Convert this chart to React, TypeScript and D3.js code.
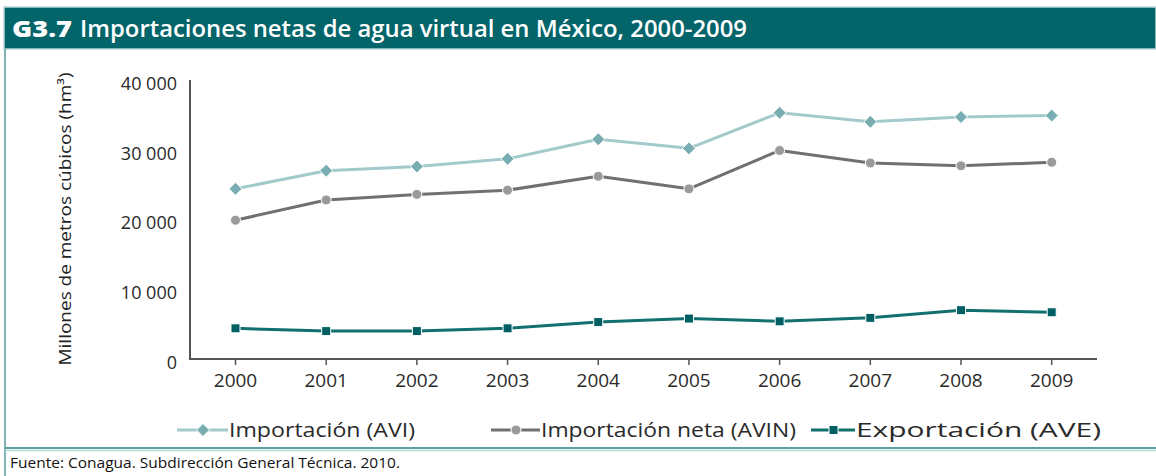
import React from "react";
import * as d3 from "d3";

const years = [2000, 2001, 2002, 2003, 2004, 2005, 2006, 2007, 2008, 2009];
const importacionAVI = [24400, 27000, 27600, 28700, 31500, 30200, 35300, 34000, 34700, 34900];
const importacionNetaAVIN = [19900, 22800, 23600, 24200, 26200, 24400, 29900, 28100, 27700, 28200];
const exportacionAVE = [4400, 4000, 4000, 4400, 5300, 5800, 5400, 5900, 7000, 6700];
const yTicks = [0, 10000, 20000, 30000, 40000];
const legendLabels = ["Importación (AVI)", "Importación neta (AVIN)", "Exportación (AVE)"];
const titleCode = "G3.7";
const titleText = "Importaciones netas de agua virtual en México, 2000-2009";
const yAxisLabel = "Millones de metros cúbicos (hm³)";
const sourceText = "Fuente: Conagua. Subdirección General Técnica. 2010.";

const W = 1156;
const H = 476;
const FONT = "'Open Sans', 'Noto Sans', sans-serif";

const x = d3.scaleLinear().domain([2000, 2009]).range([235.5, 1051.7]);
const y = d3.scaleLinear().domain([0, 40000]).range([359, 80]);
const fmt = d3.formatLocale({ decimal: ".", thousands: " ", grouping: [3], currency: ["", ""] }).format(",d");

type Shape = "diamond" | "circle" | "square";

const series: { name: string; values: number[]; line: string; marker: string; shape: Shape }[] = [
  { name: legendLabels[0], values: importacionAVI, line: "#a3cacb", marker: "#78adb1", shape: "diamond" },
  { name: legendLabels[1], values: importacionNetaAVIN, line: "#707070", marker: "#9a9a9a", shape: "circle" },
  { name: legendLabels[2], values: exportacionAVE, line: "#12716f", marker: "#005f63", shape: "square" },
];

function Marker({ shape, cx, cy, fill }: { shape: Shape; cx: number; cy: number; fill: string }) {
  if (shape === "diamond") {
    const r = 6.5;
    return (
      <path
        d={`M${cx},${cy - r}L${cx + r},${cy}L${cx},${cy + r}L${cx - r},${cy}Z`}
        fill={fill}
        stroke="#fff"
        strokeWidth={1}
      />
    );
  }
  if (shape === "circle") {
    return <circle cx={cx} cy={cy} r={5} fill={fill} stroke="#fff" strokeWidth={1} />;
  }
  const s = 9;
  return <rect x={cx - s / 2} y={cy - s / 2} width={s} height={s} fill={fill} stroke="#fff" strokeWidth={1} />;
}

export default function App() {
  const line = d3
    .line<number>()
    .x((_, i) => x(years[i]))
    .y((d) => y(d));

  const legendItems = [
    { sx: 177, tx: 229, tl: 186 },
    { sx: 491, tx: 541, tl: 255 },
    { sx: 811, tx: 856, tl: 245 },
  ];

  return (
    <svg
      width={W}
      height={H}
      style={{ position: "absolute", left: 0, top: 0, background: "#fff" }}
      fontFamily={FONT}
    >
      {/* header band */}
      <rect x={4} y={7} width={W - 4} height={42} fill="#03646a" stroke="#b9d6d7" strokeWidth={1.5} />
      <text x={12} y={37} fill="#fff" fontSize={23} fontWeight={800} textLength={60} lengthAdjust="spacingAndGlyphs">
        {titleCode}
      </text>
      <text x={80} y={37} fill="#fff" fontSize={23} fontWeight={600} textLength={667} lengthAdjust="spacingAndGlyphs">
        {titleText}
      </text>

      {/* frame */}
      <line x1={5} x2={5} y1={49} y2={H} stroke="#7fb4b6" strokeWidth={2} />
      <line x1={5} x2={W} y1={448} y2={448} stroke="#5e9fa2" strokeWidth={2} />
      <line x1={5} x2={W} y1={450.5} y2={450.5} stroke="#b7d5d6" strokeWidth={1.5} />

      {/* y axis label */}
      <text
        transform={`translate(71, ${219}) rotate(-90)`}
        textAnchor="middle"
        fontSize={16.5}
        fill="#222"
        textLength={293}
        lengthAdjust="spacingAndGlyphs"
      >
        {yAxisLabel}
      </text>

      {/* y tick labels */}
      {yTicks.map((t) => (
        <text key={t} x={177} y={y(t) + 3.5} dy="0.35em" textAnchor="end" fontSize={18} fill="#2a2a2a">
          {fmt(t)}
        </text>
      ))}

      {/* axes */}
      <line x1={190} x2={190} y1={y(40000)} y2={y(0)} stroke="#555" strokeWidth={2} />
      <line x1={189} x2={1097} y1={y(0)} y2={y(0)} stroke="#555" strokeWidth={2} />
      {years.map((yr) => (
        <g key={yr}>
          <line x1={x(yr)} x2={x(yr)} y1={y(0)} y2={y(0) + 6} stroke="#555" strokeWidth={1.5} />
          <text x={x(yr)} y={y(0) + 21} dy="0.35em" textAnchor="middle" fontSize={19} fill="#2a2a2a">
            {yr}
          </text>
        </g>
      ))}

      {/* series */}
      {series.map((s) => (
        <g key={s.name}>
          <path d={line(s.values) || ""} fill="none" stroke={s.line} strokeWidth={3} strokeLinejoin="round" />
          {s.values.map((v, i) => (
            <Marker key={i} shape={s.shape} cx={x(years[i])} cy={y(v)} fill={s.marker} />
          ))}
        </g>
      ))}

      {/* legend */}
      {series.map((s, i) => {
        const it = legendItems[i];
        const cy = 430;
        return (
          <g key={s.name}>
            <line x1={it.sx} x2={it.tx - 1} y1={cy} y2={cy} stroke={s.line} strokeWidth={3} />
            <Marker shape={s.shape} cx={(it.sx + it.tx) / 2} cy={cy} fill={s.marker} />
            <text
              x={it.tx}
              y={cy}
              dy="0.35em"
              fontSize={20}
              fill="#2a2a2a"
              textLength={it.tl}
              lengthAdjust="spacingAndGlyphs"
            >
              {s.name}
            </text>
          </g>
        );
      })}

      {/* source */}
      <text x={10} y={468} fontSize={14} fill="#111" textLength={390} lengthAdjust="spacingAndGlyphs">
        {sourceText}
      </text>
    </svg>
  );
}
